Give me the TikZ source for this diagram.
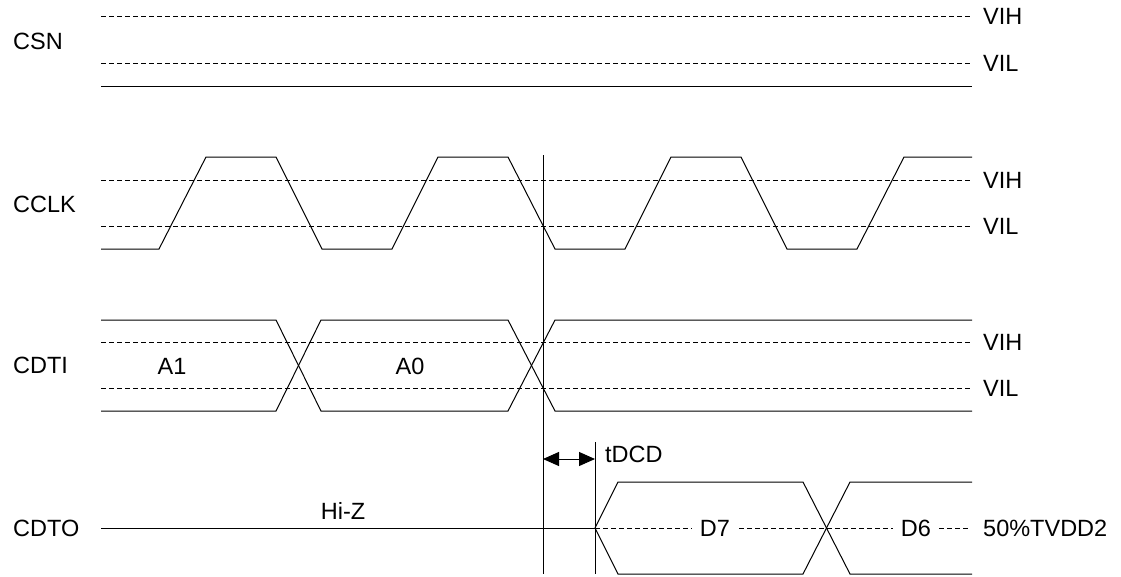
\documentclass[tikz,border=0pt]{standalone}
\usepackage{fontspec}
\setmainfont{Liberation Sans}
\usepackage{tikz}
\usetikzlibrary{
  arrows.meta,
  positioning
}
\newcommand{\wavefont}{\fontsize{23.5}{28}\selectfont}
\tikzset{
  % Signal trace
  sig/.style={line width=1pt, line join=miter},
  % Threshold level (dashed)
  lvl/.style={dash pattern=on 5pt off 3pt, line width=0.8pt},
  % Signal name on the left
  sname/.style={anchor=west, inner sep=0pt, font=\wavefont},
  % Level name on the right
  lname/.style={inner sep=0pt, font=\wavefont},
  % Bus value inside a trace
  bval/.style={inner sep=0pt, font=\wavefont},
  % Bus value sitting on a dashed line
  bmid/.style={inner xsep=8pt, inner ysep=2pt, fill=white, font=\wavefont},
  % Timing arrow
  tarr/.style={
    {Triangle[length=16pt,width=14pt]}-{Triangle[length=16pt,width=14pt]},
    line width=1pt
  }
}

\begin{document}
\begin{tikzpicture}[x=1pt,y=-1pt]
  \useasboundingbox (0,0) rectangle (1121,576);

  % Signal names
  \node[sname] (csn)  at (13,41)  {CSN};
  \node[sname] (cclk) at (13,204) {CCLK};
  \node[sname] (cdti) at (13,365) {CDTI};
  \node[sname] (cdto) at (13,528) {CDTO};

  % CSN: levels and trace
  \coordinate (csnH) at (972,16);
  \coordinate (csnL) at (972,63);
  \draw[lvl] (101,16) -- (csnH);
  \draw[lvl] (101,63) -- (csnL);
  \node[lname, right=11pt of csnH] (csnHt) {VIH};
  \node[lname, right=11pt of csnL] (csnLt) {VIL};
  \draw[sig] (101,86) -- (972,86);

  % CCLK: levels and clock trace
  \coordinate (clkH) at (972,180);
  \coordinate (clkL) at (972,226);
  \draw[lvl] (101,180) -- (clkH);
  \draw[lvl] (101,226) -- (clkL);
  \node[lname, right=11pt of clkH] (clkHt) {VIH};
  \node[lname, right=11pt of clkL] (clkLt) {VIL};
  \draw[sig] (101,249) -- (159,249)
    -- (206,157) -- (276,157) -- (322,249) -- (392,249)
    -- (438,157) -- (508,157) -- (555,249) -- (625,249)
    -- (671,157) -- (741,157) -- (787,249) -- (857,249)
    -- (904,157) -- (972,157);

  % CDTI: levels and address bus
  \coordinate (dtiH) at (972,342);
  \coordinate (dtiL) at (972,388);
  \draw[lvl] (101,342) -- (dtiH);
  \draw[lvl] (101,388) -- (dtiL);
  \node[lname, right=11pt of dtiH] (dtiHt) {VIH};
  \node[lname, right=11pt of dtiL] (dtiLt) {VIL};
  \draw[sig] (101,320) -- (276,320) -- (321,411) -- (508,411) -- (555,320) -- (972,320);
  \draw[sig] (101,411) -- (276,411) -- (321,320) -- (508,320) -- (555,411) -- (972,411);
  \node[bval] (a1) at (172,366) {A1};
  \node[bval] (a0) at (410,366) {A0};

  % CDTO: Hi-Z then data bus
  \coordinate (dtoS) at (595,528);
  \coordinate (dtoE) at (968,528);
  \draw[sig] (101,528) -- (dtoS);
  \node[bval] (hiz) at (343,511) {Hi-Z};
  \draw[sig] (dtoS) -- (618,482) -- (803,482) -- (850,574) -- (972,574);
  \draw[sig] (dtoS) -- (618,574) -- (803,574) -- (850,482) -- (972,482);
  \draw[lvl] (dtoS) -- (dtoE);
  \node[bmid] (d7) at (715,528) {D7};
  \node[bmid] (d6) at (916,528) {D6};
  \node[lname, right=15pt of dtoE] (dtoM) {50\%TVDD2};

  % Markers and tDCD
  \coordinate (mkA) at (543,459);
  \coordinate (mkB) at (595,459);
  \draw[sig] (543,155) -- (543,574);
  \draw[sig] (595,442) -- (595,574);
  \draw[tarr] (mkA) -- (mkB);
  \node[bval, anchor=west] (tdcd) at (605,454) {tDCD};

\end{tikzpicture}
\end{document}
